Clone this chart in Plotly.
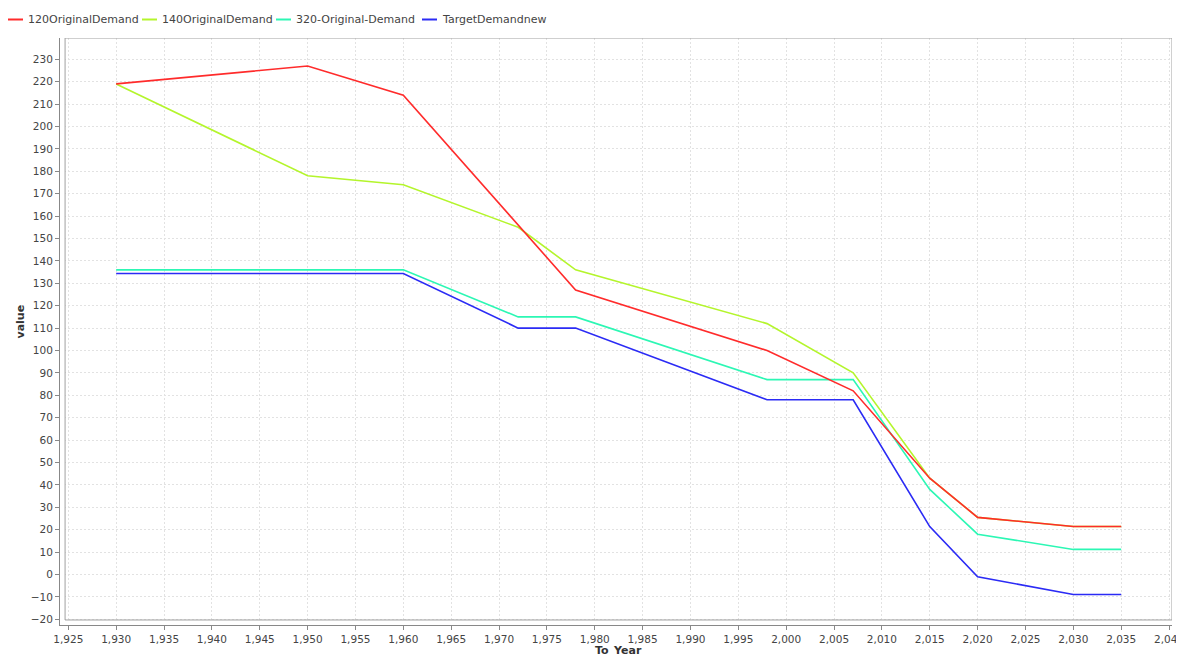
"""Demand series by year, line chart."""

import plotly.graph_objects as go

C_TEXT = "#444444"
C_TITLE = "#333333"
C_GRID = "#e2e2e2"
C_AXIS = "#888888"
C_FRAME = "#a0a0a0"

years = [1930, 1950, 1960, 1972, 1978, 1998, 2007, 2015, 2020, 2030, 2035]
red_years = [1930, 1950, 1960, 1978, 1998, 2007, 2015, 2020, 2030, 2035]

demand_120 = [219, 227, 214, 127, 100, 82, 43, 25.5, 21.4, 21.4]
demand_140 = [219, 178, 174, 155, 136, 112, 90, 43, 25.5, 21.4, 21.4]
demand_320 = [136, 136, 136, 115, 115, 87, 87, 38, 18, 11.2, 11.2]
target_new = [134.4, 134.4, 134.4, 110, 110, 78, 78, 21.4, -1, -8.9, -8.9]

series = [
    ("120OriginalDemand", red_years, demand_120, "#ff2b2b"),
    ("140OriginalDemand", years, demand_140, "#b4f52c"),
    ("320-Original-Demand", years, demand_320, "#2cf7b4"),
    ("TargetDemandnew", years, target_new, "#2b2bf5"),
]

# frame of the plot area, axes sit a few pixels outside it
X_RANGE = [1924.13, 2040.31]
Y_RANGE = [-22.54, 239.5]
FRAME_X0 = 1924.66
FRAME_Y0 = -20.3

# page has an 8px body margin; plot area spans these page pixels
PA_L, PA_R, PA_T, PA_B = 60, 1172, 38, 625


def px(x):
    return (x - PA_L) / (PA_R - PA_L)


def py(y):
    return (PA_B - y) / (PA_B - PA_T)


fig = go.Figure()
# first series drawn last so it ends up on top
for name, xs, ys, color in reversed(series):
    fig.add_trace(
        go.Scatter(
            x=xs,
            y=ys,
            name=name,
            mode="lines",
            line=dict(color=color, width=1.6),
            showlegend=False,
        )
    )

axis_common = dict(
    automargin=False,
    showgrid=True,
    gridcolor=C_GRID,
    griddash="2px,2px",
    gridwidth=1,
    zeroline=False,
    showline=True,
    linecolor=C_AXIS,
    linewidth=1,
    ticks="outside",
    ticklen=4,
    tickcolor=C_AXIS,
    ticklabeloverflow="allow",
    tickfont=dict(size=10.5, color=C_TEXT),
)

shapes = [
    # hide the grid in the gap between axis lines and frame
    dict(type="rect", xref="x", yref="y", layer="between",
         x0=X_RANGE[0], x1=FRAME_X0, y0=Y_RANGE[0], y1=Y_RANGE[1],
         fillcolor="white", line=dict(width=0)),
    dict(type="rect", xref="x", yref="y", layer="between",
         x0=X_RANGE[0], x1=X_RANGE[1], y0=Y_RANGE[0], y1=FRAME_Y0,
         fillcolor="white", line=dict(width=0)),
    dict(type="rect", xref="x", yref="y", layer="above",
         x0=FRAME_X0, x1=X_RANGE[1], y0=FRAME_Y0, y1=Y_RANGE[1],
         line=dict(color=C_FRAME, width=1)),
]

annotations = [
    dict(text="<b>To_Year</b>", xref="paper", yref="paper",
         x=px(618), y=py(625), yanchor="top", yshift=-17, showarrow=False,
         font=dict(size=11, color=C_TITLE)),
    dict(text="<b>value</b>", xref="paper", yref="paper",
         x=px(60), y=py(322), xanchor="right", xshift=-32,
         showarrow=False, textangle=-90,
         font=dict(size=11, color=C_TITLE)),
]

# compact legend row like the original: short line, then label
legend_x = [8, 142, 276, 422]
legend_y = 19.5
for (name, _, _, color), lx in zip(series, legend_x):
    shapes.append(
        dict(type="line", xref="paper", yref="paper", layer="above",
             x0=px(lx), x1=px(lx + 15), y0=py(legend_y), y1=py(legend_y),
             line=dict(color=color, width=2))
    )
    annotations.append(
        dict(text=name, xref="paper", yref="paper",
             x=px(lx + 18), y=py(legend_y), xanchor="left", yanchor="middle",
             showarrow=False, font=dict(size=11, color=C_TEXT))
    )

fig.update_layout(
    width=1176,
    height=648,
    paper_bgcolor="white",
    plot_bgcolor="white",
    margin=dict(l=PA_L - 8, r=1184 - PA_R, t=PA_T - 8, b=656 - PA_B,
                autoexpand=False),
    font=dict(family="DejaVu Sans, sans-serif", color=C_TEXT),
    showlegend=False,
    xaxis=dict(
        axis_common,
        range=X_RANGE,
        tick0=1925,
        dtick=5,
        tickformat=",d",
    ),
    yaxis=dict(
        axis_common,
        range=Y_RANGE,
        tick0=0,
        dtick=10,
    ),
    shapes=shapes,
    annotations=annotations,
)

fig.write_html("out.html")
